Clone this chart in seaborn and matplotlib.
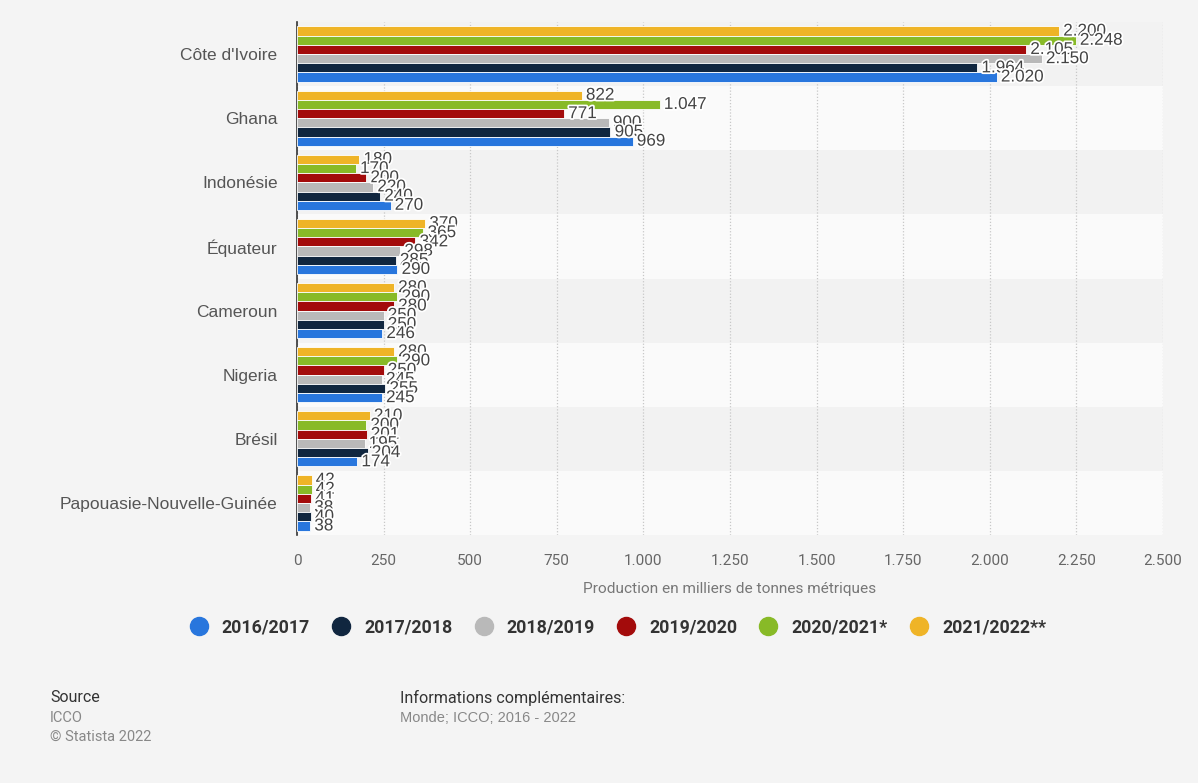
import pandas as pd
import matplotlib
matplotlib.use("Agg")
import matplotlib.pyplot as plt
import matplotlib.patheffects as pe
from matplotlib.lines import Line2D
import seaborn as sns

# Données (milliers de tonnes métriques)
pays = ["Côte d'Ivoire", "Ghana", "Indonésie", "Équateur", "Cameroun",
        "Nigeria", "Brésil", "Papouasie-Nouvelle-Guinée"]
saisons = ["2016/2017", "2017/2018", "2018/2019", "2019/2020",
           "2020/2021*", "2021/2022**"]
v_2016_17 = [2020, 969, 270, 290, 246, 245, 174, 38]
v_2017_18 = [1964, 905, 240, 285, 250, 255, 204, 40]
v_2018_19 = [2150, 900, 220, 298, 250, 245, 195, 38]
v_2019_20 = [2105, 771, 200, 342, 280, 250, 201, 41]
v_2020_21 = [2248, 1047, 170, 365, 290, 290, 200, 42]
v_2021_22 = [2200, 822, 180, 370, 280, 280, 210, 42]
couleurs = ["#2876dd", "#10263f", "#b9b9b9", "#a30b0b", "#88ba27", "#efb427"]

series = [v_2016_17, v_2017_18, v_2018_19, v_2019_20, v_2020_21, v_2021_22]
rows = []
for s, vals in zip(saisons, series):
    for p, v in zip(pays, vals):
        rows.append({"Pays": p, "Saison": s, "Production": v})
df = pd.DataFrame(rows)

sns.set_style("white")
plt.rcParams["font.family"] = ["Roboto", "DejaVu Sans"]
arial = ["Liberation Sans", "DejaVu Sans"]

fig = plt.figure(figsize=(11.98, 7.83), dpi=100, facecolor="#f4f4f4")
ax = fig.add_axes([297 / 1198, 1 - 535 / 783, 866 / 1198, 513 / 783])
ax.set_facecolor("#f4f4f4")

# bandes alternées
for i in range(len(pays)):
    ax.axhspan(i - 0.5, i + 0.5, color="#f2f2f2" if i % 2 == 0 else "#fafafa",
               zorder=0, lw=0)

ordre = saisons[::-1]
palette = dict(zip(saisons, couleurs))
sns.barplot(data=df, y="Pays", x="Production", hue="Saison", hue_order=ordre,
            order=pays, palette=palette, orient="h", width=0.86, saturation=1,
            legend=False, edgecolor="white", linewidth=0.6, ax=ax, zorder=3)

def fmt(v):
    return f"{v:,}".replace(",", ".")

for cont, s in zip(ax.containers, ordre):
    vals = df[df["Saison"] == s].set_index("Pays").loc[pays, "Production"]
    ax.bar_label(cont, labels=[fmt(v) for v in vals], padding=3, fontsize=12.3,
                 family=arial, color="#444444", zorder=5,
                 path_effects=[pe.withStroke(linewidth=2.5, foreground="white")])

ax.set_xlim(0, 2500)
ax.set_ylim(len(pays) - 0.5, -0.5)
ax.set_xticks(range(0, 2501, 250))
ax.set_xticklabels([fmt(t) for t in range(0, 2501, 250)])
ax.xaxis.grid(True, linestyle=(0, (1, 1.5)), color="#c8c8c8", lw=0.9, zorder=1)
ax.yaxis.grid(False)
ax.set_axisbelow(True)
for side in ["top", "right", "bottom"]:
    ax.spines[side].set_visible(False)
ax.spines["left"].set_color("#333333")
ax.spines["left"].set_linewidth(1.2)
ax.tick_params(axis="x", length=0, pad=14, labelsize=11, labelcolor="#666666")
ax.tick_params(axis="y", length=0, pad=14, labelsize=12.5, labelcolor="#555555")
for t in ax.get_yticklabels():
    t.set_family(arial)
ax.set_ylabel("")
ax.set_xlabel("Production en milliers de tonnes métriques", fontsize=11.1,
              color="#777777", labelpad=10)

handles = [Line2D([0], [0], marker="o", linestyle="", markersize=13,
                  markerfacecolor=c, markeredgecolor=c) for c in couleurs]
leg = fig.legend(handles, saisons, loc="center", bbox_to_anchor=(0.512, 1 - 627 / 783),
                 ncol=6, frameon=False, handletextpad=0.3, columnspacing=0.75,
                 prop={"weight": "bold", "size": 12.8})
for t in leg.get_texts():
    t.set_color("#333333")

fig.text(50 / 1198, 1 - 698 / 783, "Source", fontsize=11.5, color="#333333", va="center")
fig.text(50 / 1198, 1 - 718 / 783, "ICCO", fontsize=10.5, color="#888888", va="center")
fig.text(50 / 1198, 1 - 737 / 783, "© Statista 2022", fontsize=10.5, color="#888888", va="center")
fig.text(400 / 1198, 1 - 698 / 783, "Informations complémentaires:", fontsize=11.6,
         color="#333333", va="center")
fig.text(400 / 1198, 1 - 718 / 783, "Monde; ICCO; 2016 - 2022", fontsize=10.5,
         color="#888888", va="center", family=arial)

fig.savefig("out.png", dpi=100, facecolor=fig.get_facecolor())
